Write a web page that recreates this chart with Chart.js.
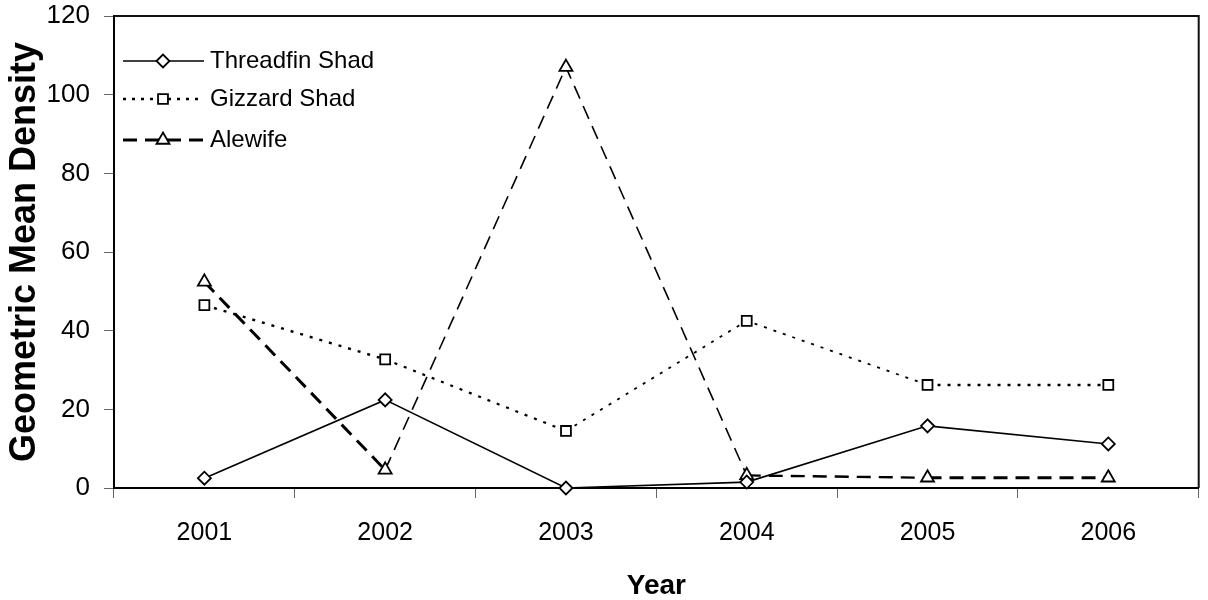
<!DOCTYPE html>
<html>
<head>
<meta charset="utf-8">
<script src="https://cdn.jsdelivr.net/npm/chart.js@4"></script>
<style>
  html, body { margin: 0; padding: 0; background: #fff; }
  #wrap { width: 1208px; height: 600px; }
</style>
</head>
<body>
<div id="wrap"><canvas id="chart" width="1208" height="600"></canvas></div>
<script>
// values
const years = ['2001', '2002', '2003', '2004', '2005', '2006'];
const threadfinShad = [2.5, 22.4, 0, 1.5, 15.8, 11.2];
const gizzardShad = [46.5, 32.7, 14.5, 42.5, 26.2, 26.2];
const alewife = [52.4, 4.6, 107, 3.2, 2.6, 2.6];
const yTicks = [0, 20, 40, 60, 80, 100, 120];

const FONT = "'Liberation Sans', Arial, sans-serif";

// per segment widths, the original dashes are not uniform
const alewifeWidths = [3, 1.6, 1.6, 2.4, 3.2];
const gizzardWidths = [2.4, 2.2, 1.8, 1.8, 2.4];

// box round the plot area
const frame = {
  id: 'frame',
  afterDraw(chart) {
    const { ctx, chartArea: a } = chart;
    ctx.save();
    ctx.strokeStyle = '#111';
    ctx.lineWidth = 2;
    ctx.setLineDash([]);
    ctx.beginPath();
    ctx.moveTo(a.left, a.top);
    ctx.lineTo(a.right, a.top);
    ctx.lineTo(a.right, a.bottom);
    ctx.stroke();
    ctx.restore();
  }
};

// legend with line + marker, like the spreadsheet one
const lineLegend = {
  id: 'lineLegend',
  afterDraw(chart) {
    const ctx = chart.ctx;
    const items = [
      { text: 'Threadfin Shad', y: 61, dash: [], width: 1.6, style: 'rectRot', radius: 6.5 },
      { text: 'Gizzard Shad', y: 99, dash: [3, 6], width: 2.4, style: 'rect', radius: 7 },
      { text: 'Alewife', y: 140, dash: [14, 8], width: 3, style: 'triangle', radius: 7.5 }
    ];
    ctx.save();
    items.forEach(it => {
      ctx.strokeStyle = '#000';
      ctx.lineWidth = it.width;
      ctx.setLineDash(it.dash);
      ctx.beginPath();
      ctx.moveTo(123, it.y);
      ctx.lineTo(204, it.y);
      ctx.stroke();
      ctx.setLineDash([]);
      ctx.fillStyle = '#fff';
      ctx.lineWidth = 1.8;
      Chart.helpers.drawPoint(ctx, { pointStyle: it.style, radius: it.radius, borderWidth: 1.8, rotation: 0 }, 163, it.y);
      ctx.fillStyle = '#000';
      ctx.font = '24px ' + FONT;
      ctx.textBaseline = 'middle';
      ctx.textAlign = 'left';
      ctx.fillText(it.text, 210, it.y);
    });
    ctx.restore();
  }
};

new Chart(document.getElementById('chart'), {
  type: 'line',
  data: {
    labels: years,
    datasets: [
      {
        label: 'Threadfin Shad',
        data: threadfinShad,
        borderColor: '#000',
        borderWidth: 1.6,
        pointStyle: 'rectRot',
        pointRadius: 6.5,
        pointBorderWidth: 1.8,
        pointBackgroundColor: '#fff',
        pointBorderColor: '#000',
        tension: 0,
        clip: false
      },
      {
        label: 'Gizzard Shad',
        data: gizzardShad,
        borderColor: '#000',
        borderWidth: 2,
        borderDash: [3, 7],
        segment: {
          borderWidth: c => gizzardWidths[c.p0DataIndex]
        },
        pointStyle: 'rect',
        pointRadius: 7,
        pointBorderWidth: 1.8,
        pointBackgroundColor: '#fff',
        pointBorderColor: '#000',
        tension: 0,
        clip: false
      },
      {
        label: 'Alewife',
        data: alewife,
        borderColor: '#000',
        borderWidth: 2,
        borderDash: [14, 8],
        segment: {
          borderWidth: c => alewifeWidths[c.p0DataIndex]
        },
        pointStyle: 'triangle',
        pointRadius: 7.5,
        pointBorderWidth: 1.8,
        pointBackgroundColor: '#fff',
        pointBorderColor: '#000',
        tension: 0,
        clip: false
      }
    ]
  },
  options: {
    responsive: false,
    animation: false,
    layout: { padding: { top: 16, right: 2, left: 0, bottom: 0 } },
    plugins: {
      legend: { display: false },
      tooltip: { enabled: false }
    },
    scales: {
      x: {
        offset: true,
        grid: {
          offset: true,
          drawOnChartArea: false,
          tickLength: 10,
          color: '#666',
          lineWidth: 1
        },
        border: { color: '#000', width: 2 },
        ticks: {
          color: '#000',
          font: { family: FONT, size: 25 },
          padding: 20,
          maxRotation: 0
        },
        title: {
          display: true,
          text: 'Year',
          color: '#000',
          font: { family: FONT, size: 28, weight: 'bold', lineHeight: 1 },
          padding: { top: 0, bottom: 0 }
        },
        afterFit(scale) { scale.height = 112; }
      },
      y: {
        min: 0,
        max: 120,
        afterBuildTicks(scale) {
          scale.ticks = yTicks.map(v => ({ value: v }));
        },
        grid: {
          drawOnChartArea: false,
          tickLength: 10,
          color: '#666',
          lineWidth: 1
        },
        border: { color: '#000', width: 2 },
        ticks: {
          color: '#000',
          // tiny line height so the labels do not push the plot top down
          font: { family: FONT, size: 26, lineHeight: 0.05 },
          padding: 14
        },
        title: {
          display: true,
          text: 'Geometric Mean Density',
          color: '#000',
          font: { family: FONT, size: 36, weight: 'bold', lineHeight: 1 },
          padding: { top: 7, bottom: 0 }
        },
        afterFit(scale) { scale.width = 114; }
      }
    }
  },
  plugins: [frame, lineLegend]
});
</script>
</body>
</html>
